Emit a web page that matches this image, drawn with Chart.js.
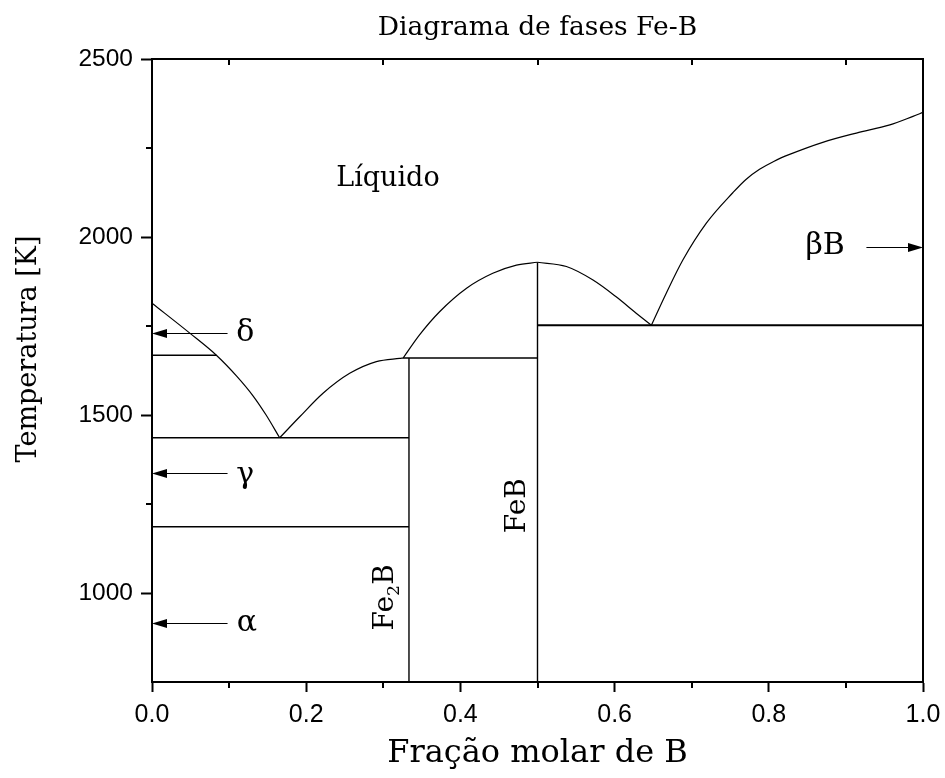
<!DOCTYPE html>
<html><head><meta charset="utf-8">
<script src="https://cdn.jsdelivr.net/npm/chart.js@4/dist/chart.umd.min.js"></script>
<style>html,body{margin:0;padding:0;background:#fff}</style>
</head><body>
<canvas id="c" width="945" height="778"></canvas>
<script>
// ---- tick labels ----
const xTickValues = [0, 0.2, 0.4, 0.6, 0.8, 1.0];
const yTickValues = [1000, 1500, 2000, 2500];
const xMinorTicks = [0.1, 0.3, 0.5, 0.7, 0.9];
const yMinorTicks = [1250, 1750, 2250];

// ---- liquidus curves (x = mole fraction B, T in K) ----
const liqFeX  = [0, 0.049, 0.0835, 0.1095, 0.131, 0.148, 0.1656];
const liqFeT  = [1814, 1730, 1668, 1610, 1554, 1500, 1436];
const liqFe2BX = [0.1656, 0.1916, 0.2218, 0.2564, 0.291, 0.321, 0.3257];
const liqFe2BT = [1436, 1495, 1561, 1617, 1650, 1659, 1660];
const liqFeBLX = [0.3257, 0.347, 0.373, 0.408, 0.442, 0.4727, 0.5];
const liqFeBLT = [1660, 1725, 1790, 1856, 1898, 1921, 1929];
const liqFeBRX = [0.5, 0.5375, 0.572, 0.602, 0.628, 0.6477];
const liqFeBRT = [1929, 1917, 1879, 1832, 1786, 1752];
const liqBX = [0.6477, 0.667, 0.6887, 0.719, 0.7536, 0.77, 0.788, 0.807, 0.827, 0.870, 0.9136, 0.957, 0.987, 1.0];
const liqBT = [1752, 1842, 1936, 2039, 2125, 2161, 2190, 2213, 2232, 2266, 2292, 2315, 2339, 2350];

// ---- straight phase boundaries: [x1, T1, x2, T2] ----
const deltaGammaLine = [0, 1668, 0.0835, 1668];
const eutecticFeLine = [0, 1436, 0.3333, 1436];
const gammaAlphaLine = [0, 1186, 0.3333, 1186];
const fe2bLine       = [0.3333, 750, 0.3333, 1660];
const peritecticLine = [0.3257, 1660, 0.5, 1660];
const febLine        = [0.5, 750, 0.5, 1929];
const eutecticBLine  = [0.5, 1752, 1.0, 1752];

// ---- arrows: [xFrom, xTo, T] ----
const arrowDelta = [0.098, 0, 1730];
const arrowGamma = [0.098, 0, 1337];
const arrowAlpha = [0.098, 0, 915];
const arrowBeta  = [0.9266, 1.0, 1973];

const toPts = (xs, ts) => xs.map((x, i) => ({x: x, y: ts[i]}));
const seg = a => [{x: a[0], y: a[1]}, {x: a[2], y: a[3]}];

const curve = (pts) => ({data: pts, showLine: true, borderColor: '#000', borderWidth: 1.2,
  pointRadius: 0, cubicInterpolationMode: 'monotone', fill: false});
const line = (pts, w) => ({data: pts, showLine: true, borderColor: '#000', borderWidth: w || 1.4,
  pointRadius: 0, tension: 0, fill: false});

const SERIF = '"DejaVu Serif", serif';
const SANS = '"Liberation Sans", Arial, sans-serif';

const extras = {
  id: 'extras',
  afterDatasetsDraw(chart) {
    const {ctx, chartArea: a, scales: {x, y}} = chart;
    ctx.save();
    ctx.strokeStyle = '#000'; ctx.fillStyle = '#000';
    // frame top & right
    ctx.lineWidth = 2;
    ctx.beginPath();
    ctx.moveTo(a.left, a.top); ctx.lineTo(a.right, a.top); ctx.lineTo(a.right, a.bottom);
    ctx.stroke();
    // minor ticks
    ctx.beginPath();
    yMinorTicks.forEach(v => { const p = Math.round(y.getPixelForValue(v)); ctx.moveTo(a.left - 6, p); ctx.lineTo(a.left, p); });
    xMinorTicks.forEach(v => { const p = Math.round(x.getPixelForValue(v)); ctx.moveTo(p, a.bottom); ctx.lineTo(p, a.bottom + 6);
      ctx.moveTo(p, a.top); ctx.lineTo(p, a.top + 6); });
    ctx.stroke();
    // arrows
    const arrow = (arr) => {
      const x1 = x.getPixelForValue(arr[0]), x2 = x.getPixelForValue(arr[1]), py = Math.round(y.getPixelForValue(arr[2])) + 0.5;
      const dir = Math.sign(x2 - x1);
      ctx.lineWidth = 1;
      ctx.beginPath(); ctx.moveTo(x1, py); ctx.lineTo(x2 - dir * 10, py); ctx.stroke();
      ctx.beginPath(); ctx.moveTo(x2, py); ctx.lineTo(x2 - dir * 15, py - 4.5); ctx.lineTo(x2 - dir * 15, py + 4.5); ctx.closePath(); ctx.fill();
    };
    [arrowDelta, arrowGamma, arrowAlpha, arrowBeta].forEach(arrow);
    // labels
    ctx.textAlign = 'center';
    const lbl = (t, vx, vy, size) => { ctx.font = size + 'px ' + SERIF; ctx.fillText(t, x.getPixelForValue(vx), y.getPixelForValue(vy)); };
    ctx.textBaseline = 'alphabetic';
    lbl('Líquido', 0.306, 2142, 27);
    ctx.textBaseline = 'middle';
    lbl('δ', 0.121, 1730, 30);
    lbl('γ', 0.121, 1330, 30);
    lbl('α', 0.123, 915, 30);
    lbl('βB', 0.873, 1973, 30);
    // rotated compound labels
    const rot = (parts, vx, vy, size) => {
      ctx.save();
      ctx.translate(x.getPixelForValue(vx), y.getPixelForValue(vy));
      ctx.rotate(-Math.PI / 2);
      ctx.textAlign = 'left'; ctx.textBaseline = 'alphabetic';
      let cx = 0;
      parts.forEach(p => {
        ctx.font = (p.sub ? size * 0.62 : size) + 'px ' + SERIF;
        ctx.fillText(p.t, cx, p.sub ? size * 0.22 : 0);
        cx += ctx.measureText(p.t).width;
      });
      ctx.restore();
    };
    rot([{t: 'Fe'}, {t: '2', sub: true}, {t: 'B'}], 0.312, 895, 28);
    rot([{t: 'FeB'}], 0.4833, 1168, 28);
    // y axis title
    ctx.save();
    ctx.translate(29, 349);
    ctx.rotate(-Math.PI / 2);
    ctx.font = '27px ' + SERIF;
    ctx.textAlign = 'center'; ctx.textBaseline = 'middle';
    ctx.fillText('Temperatura [K]', 0, 0);
    ctx.restore();
    ctx.restore();
  }
};

new Chart(document.getElementById('c'), {
  type: 'scatter',
  data: {
    datasets: [
      curve(toPts(liqFeX, liqFeT)),
      curve(toPts(liqFe2BX, liqFe2BT)),
      curve(toPts(liqFeBLX, liqFeBLT)),
      curve(toPts(liqFeBRX, liqFeBRT)),
      curve(toPts(liqBX, liqBT)),
      line(seg(deltaGammaLine)),
      line(seg(eutecticFeLine)),
      line(seg(gammaAlphaLine)),
      line(seg(fe2bLine)),
      line(seg(peritecticLine)),
      line(seg(febLine)),
      line(seg(eutecticBLine), 2)
    ]
  },
  options: {
    responsive: false,
    animation: false,
    devicePixelRatio: 1,
    layout: {padding: {left: 0, right: 22, top: 0, bottom: 0}},
    plugins: {
      legend: {display: false},
      tooltip: {enabled: false},
      title: {display: true, text: 'Diagrama de fases Fe-B', fullSize: false, color: '#000',
        font: {family: SERIF, size: 26.5, weight: 'normal', lineHeight: 1.2}, padding: {top: 12.5, bottom: 14.7}}
    },
    scales: {
      x: {
        type: 'linear', min: 0, max: 1,
        afterBuildTicks: s => { s.ticks = xTickValues.map(v => ({value: v})); },
        afterFit: s => { s.height = 96; s.paddingLeft = 0; s.paddingRight = 0; },
        ticks: {callback: v => Number(v).toFixed(1), color: '#000', font: {family: SANS, size: 25}, padding: 8, maxRotation: 0},
        grid: {display: true, drawOnChartArea: false, drawTicks: true, tickLength: 10, tickWidth: 2, tickColor: '#000'},
        border: {display: true, width: 2, color: '#000'},
        title: {display: true, text: 'Fração molar de B', color: '#000', font: {family: SERIF, size: 32, lineHeight: 1}, padding: {top: 0, bottom: 8}}
      },
      y: {
        type: 'linear', min: 750, max: 2500,
        afterBuildTicks: s => { s.ticks = yTickValues.map(v => ({value: v})); },
        afterFit: s => { s.width = 152; s.paddingTop = 0; s.paddingBottom = 0; },
        ticks: {callback: v => String(v), color: '#000', font: {family: SANS, size: 24.5}, padding: 8},
        grid: {display: true, drawOnChartArea: false, drawTicks: true, tickLength: 11, tickWidth: 2, tickColor: '#000'},
        border: {display: true, width: 2, color: '#000'},
        title: {display: false}
      }
    }
  },
  plugins: [extras]
});
</script>
</body></html>
